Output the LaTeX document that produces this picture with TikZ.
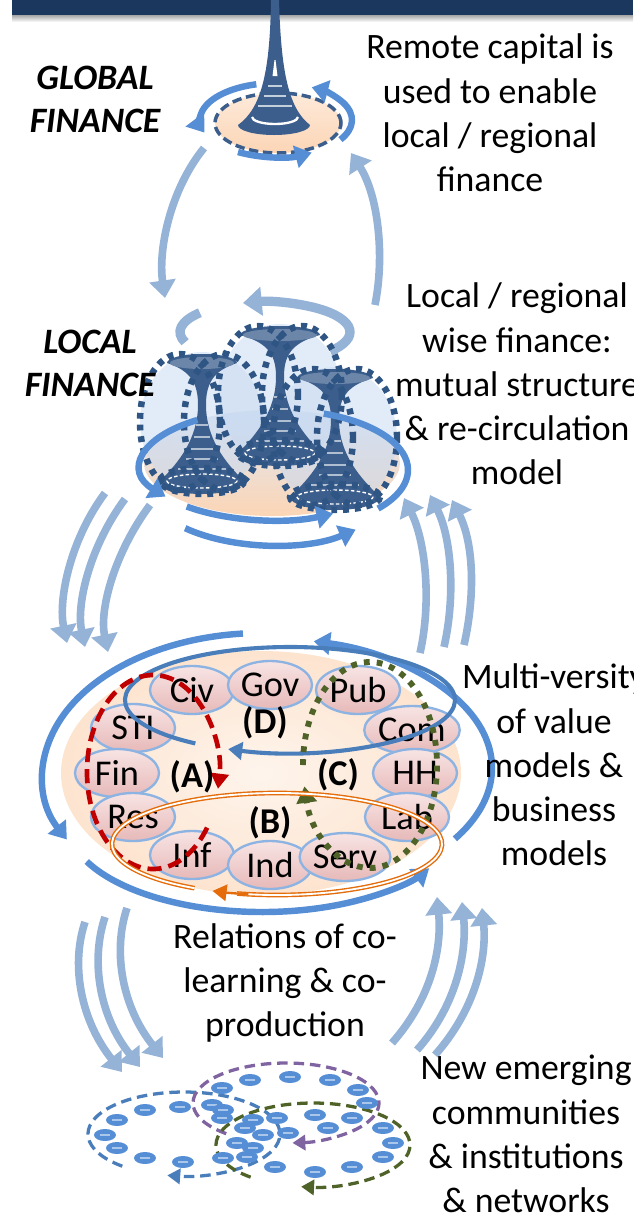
\documentclass[tikz,border=0pt]{standalone}
\usepackage{fontspec}
\setmainfont{Carlito}
\usetikzlibrary{shapes.geometric,arrows.meta,calc,positioning}
\newcommand{\MvUnit}{0.03}
\definecolor{barnavy}{HTML}{1C375E}
\definecolor{towerblue}{HTML}{3B5E8C}
\definecolor{dotnavy}{HTML}{2E5584}
\definecolor{ringblue}{HTML}{558ED5}
\definecolor{flowblue}{HTML}{95B3D7}
\definecolor{domeblue}{HTML}{C6D9F1}
\definecolor{peach}{HTML}{FCD5B5}
\definecolor{peachlight}{HTML}{FDEADA}
\definecolor{pinkdark}{HTML}{E6B9B8}
\definecolor{pinklight}{HTML}{F8E4E4}
\definecolor{rimblue}{HTML}{8DB3E2}
\definecolor{loopred}{HTML}{C00000}
\definecolor{loopgreen}{HTML}{4F6228}
\definecolor{looporange}{HTML}{E46C0A}
\definecolor{loopblue}{HTML}{4A7EBB}
\definecolor{looppurple}{HTML}{8064A2}
\tikzset{
  note/.style={align=center, inner sep=0pt, font=\fontsize{30.5}{37.8}\selectfont},
  tier/.style={align=center, inner sep=0pt, font=\fontsize{30.5}{36.7}\selectfont\bfseries\itshape},
  actor/.style={ellipse, draw=rimblue, line width=2pt, top color=pinklight, bottom color=pinkdark,
    minimum width=84*\MvUnit cm, minimum height=48*\MvUnit cm, inner sep=0pt, font=\fontsize{31}{32}\selectfont},
  member/.style={ellipse, fill=ringblue, minimum width=22*\MvUnit cm, minimum height=12*\MvUnit cm, inner sep=0pt,
    path picture={\draw[white, opacity=0.5, line width=1pt] ([xshift=-4pt]path picture bounding box.center) -- ([xshift=4pt]path picture bounding box.center);}},
  tag/.style={inner sep=0pt, font=\fontsize{31}{32}\selectfont\bfseries},
  flow/.style={flowblue, line width=6.5pt, -{Triangle[length=15pt, width=22pt]}},
  ring/.style={ringblue, line width=5.5pt},
  ringarrow/.style={ring, -{Triangle[length=14pt, width=19pt]}},
  domedots/.style={dotnavy, line width=5.5pt, dash pattern=on 5pt off 5pt},
}
\begin{document}
\begin{tikzpicture}[x=\MvUnit cm, y=-\MvUnit cm]
\useasboundingbox (0,0) rectangle (633,1223);

\fill[barnavy] (12,0) rectangle (633,15);
\shade[top color=black!35, bottom color=white] (12,15) rectangle (633,22);

\node[ellipse, draw=towerblue, line width=3pt, dash pattern=on 8pt off 4pt, top color=peachlight, bottom color=peach,
  minimum width=126*\MvUnit cm, minimum height=60*\MvUnit cm] (gbase) at (278,123) {};
\coordinate (gc) at (276,120);
\draw[ringarrow] ($(gc)+(255:76 and 37)$) arc[start angle=255, end angle=160, x radius=76, y radius=37];
\draw[ringarrow] ($(gc)+(120:76 and 37)$) arc[start angle=120, end angle=62, x radius=76, y radius=37];
\draw[ringarrow] ($(gc)+(32:76 and 37)$) arc[start angle=32, end angle=-62, x radius=76, y radius=37];
\fill[towerblue] (271,0) .. controls (270,70) and (262,108) .. (238,125)
  arc[start angle=180, end angle=0, x radius=36, y radius=10]
  .. controls (288,108) and (281,70) .. (279,0) -- cycle;
\fill[white] (274.5,60) -- (275.5,60) -- (277.5,76) -- (272.5,76) -- cycle;
\foreach \sy/\sw in {86/7, 96/11, 106/17}
  \draw[white, opacity=0.7, line width=1.2pt] (275-\sw,\sy) -- (275+\sw,\sy);
\draw[white, line width=2pt] (252,117) arc[start angle=180, end angle=0, x radius=23, y radius=7];

\node[tier] (glabel) at (95,99) {GLOBAL\\FINANCE};
\node[note] (gnote) at (490,113) {Remote capital is\\used to enable\\local / regional\\finance};

\coordinate (g1) at (204,148);
\coordinate (l1) at (165,298);
\draw[flow] (g1) .. controls (170,190) and (158,250) .. (l1);
\coordinate (l2) at (375,305);
\coordinate (g2) at (351,153);
\draw[flow] (l2) .. controls (385,255) and (378,195) .. (g2);

\coordinate (lc) at (265,332);
\draw[flowblue, line width=8pt, -{Triangle[length=16pt, width=24pt]}] ($(lc)+(40:85 and 30)$) arc[start angle=40, end angle=-105, x radius=85, y radius=30];
\draw[flowblue, line width=8pt] ($(lc)+(-140:85 and 30)$) arc[start angle=-140, end angle=-200, x radius=85, y radius=30];

\node[ellipse, top color=domeblue!60, bottom color=peach, minimum width=256*\MvUnit cm, minimum height=106*\MvUnit cm] (lbase) at (272,463) {};
\foreach \tx/\my in {202/422, 280/394, 335/437}
  \fill[domeblue, opacity=0.5] (\tx,\my) ellipse[x radius=62, y radius=70];
\foreach \tx/\tp/\bt/\rt/\rb in {202/363/481/35/42, 280/335/453/40/42, 335/378/497/38/45} {
  \fill[towerblue] (\tx-\rt,\tp) .. controls (\tx-10,\tp+8) and (\tx-4,\tp+22) .. (\tx-4,\tp+42)
    .. controls (\tx-4,\bt-38) and (\tx-\rb+12,\bt-12) .. (\tx-\rb,\bt)
    arc[start angle=180, end angle=0, x radius=\rb, y radius=13]
    .. controls (\tx+\rb-12,\bt-12) and (\tx+4,\bt-38) .. (\tx+4,\tp+42)
    .. controls (\tx+4,\tp+22) and (\tx+10,\tp+8) .. (\tx+\rt,\tp)
    arc[start angle=0, end angle=-180, x radius=\rt, y radius=9] -- cycle;
  \fill[towerblue!75!white] (\tx,\tp) ellipse[x radius=\rt-3, y radius=6];
  \foreach \sy/\sw in {12/24, 22/16, 32/11, 44/8, 56/6}
    \draw[white, opacity=0.6, line width=1pt] (\tx-\sw,\bt-\sy) -- (\tx+\sw,\bt-\sy);
  \draw[white, line width=1.2pt, dash pattern=on 3pt off 2pt] (\tx,\bt) ellipse[x radius=\rb-7, y radius=7];
  \draw[domedots] (\tx,\bt) ellipse[x radius=\rb, y radius=13];
}
\foreach \tx/\my in {202/422, 280/394, 335/437} {
  \draw[domedots] (\tx-22,\my) ellipse[x radius=40, y radius=68];
  \draw[domedots] (\tx+22,\my) ellipse[x radius=40, y radius=68];
}
\coordinate (rc) at (272,465);
\draw[ringarrow] ($(rc)+(235:130 and 55)$) arc[start angle=235, end angle=145, x radius=130, y radius=55];
\draw[ringarrow] ($(rc)+(131:130 and 55)$) arc[start angle=131, end angle=62, x radius=130, y radius=55];
\coordinate (rc2) at (280,470);
\draw[ring] ($(rc2)+(40:128 and 60)$) arc[start angle=40, end angle=-70, x radius=128, y radius=60];
\coordinate (rc3) at (272,485);
\draw[ringarrow] ($(rc3)+(134:125 and 60)$) arc[start angle=134, end angle=48, x radius=125, y radius=60];

\node[tier] (llabel) at (90,363) {LOCAL\\FINANCE};
\node[note] (lnote) at (517,384) {Local / regional\\wise finance:\\mutual structure\\\& re-circulation\\model};

\foreach \sx/\sy/\ex/\ey [count=\k] in {105/493/67/643, 125/499/85/647, 150/505/108/652} {
  \coordinate (ls\k) at (\sx,\sy);
  \coordinate (vt\k) at (\ex,\ey);
  \draw[flow] (ls\k) .. controls +(-35,47) and +(-9,-43) .. (vt\k);
}
\foreach \sx/\sy/\ex/\ey [count=\k] in {420/653/404/498, 444/647/430/495, 464/645/452/500} {
  \coordinate (vs\k) at (\sx,\sy);
  \coordinate (lt\k) at (\ex,\ey);
  \draw[flow] (vs\k) .. controls +(12,-53) and +(21,42) .. (lt\k);
}

\node[ellipse, inner color=peachlight!50!white, outer color=peachlight!70!peach, minimum width=400*\MvUnit cm, minimum height=244*\MvUnit cm] (vbase) at (261,773) {};
\coordinate (vc1) at (262,775);
\draw[ringarrow] ($(vc1)+(265:219 and 142)$) arc[start angle=265, end angle=153, x radius=219, y radius=142];
\coordinate (vc2) at (262,768);
\draw[ringarrow] ($(vc2)+(33:230 and 130)$) arc[start angle=33, end angle=-77, x radius=230, y radius=130];
\coordinate (vc3) at (262,822);
\draw[ringarrow] ($(vc3)+(154:195 and 90)$) arc[start angle=154, end angle=31, x radius=195, y radius=90];

\node[actor] (civ) at (192,690) {Civ};
\node[actor] (gov) at (270,685) {Gov};
\node[actor] (pub) at (358,690) {Pub};
\node[actor] (sti) at (133,728) {STI};
\node[actor] (com) at (412,730) {Com};
\node[actor] (fin) at (117,773) {Fin};
\node[actor] (hh) at (415,773) {HH};
\node[actor] (res) at (133,817) {Res};
\node[actor] (lab) at (407,817) {Lab};
\node[actor] (inf) at (192,855) {Inf};
\node[actor] (ind) at (270,865) {Ind};
\node[actor] (serv) at (345,857) {Serv};

\coordinate (dc) at (290,700);
\draw[loopblue, line width=3.5pt, -{Triangle[length=12pt, width=15pt]}] ($(dc)+(125:165 and 53)$) arc[start angle=125, end angle=472, x radius=165, y radius=53];
\coordinate (ac) at (153,772);
\draw[loopred, line width=4pt, dash pattern=on 12pt off 6pt, -{Triangle[length=13pt, width=15pt]}] ($(ac)+(35:66 and 97)$) arc[start angle=35, end angle=370, x radius=66, y radius=97];
\coordinate (cc) at (370,765);
\draw[loopgreen, line width=5pt, dash pattern=on 5pt off 6pt, -{Triangle[length=14pt, width=17pt]}] ($(cc)+(180:67 and 103)$) arc[start angle=180, end angle=528, x radius=67, y radius=103];
\coordinate (bc) at (277,844);
\draw[looporange, line width=1.2pt, double=white, double distance=1.6pt] ($(bc)+(120:165 and 51)$) arc[start angle=120, end angle=464, x radius=165, y radius=51];
\draw[looporange, line width=2pt, -{Triangle[length=12pt, width=14pt]}] ($(bc)+(460:165 and 51)$) arc[start angle=460, end angle=473, x radius=165, y radius=51];

\node[tag] (ta) at (192,777) {(A)};
\node[tag] (tb) at (270,823) {(B)};
\node[tag] (tc) at (338,775) {(C)};
\node[tag] (td) at (265,723) {(D)};

\node[note] (vnote) at (554,765) {Multi-versity\\of value\\models \&\\business\\models};
\node[note] (rnote) at (285,983) {Relations of co-\\learning \& co-\\production};

\foreach \sx/\sy/\ex/\ey [count=\k] in {85/922/122/1072, 105/917/140/1067, 127/908/163/1058} {
  \coordinate (vd\k) at (\sx,\sy);
  \coordinate (nt\k) at (\ex,\ey);
  \draw[flow] (vd\k) .. controls +(-15,45) and +(-40,-50) .. (nt\k);
}
\foreach \sx/\sy/\ex/\ey [count=\k] in {392/1043/437/897, 417/1050/462/902, 435/1055/482/908} {
  \coordinate (ns\k) at (\sx,\sy);
  \coordinate (vu\k) at (\ex,\ey);
  \draw[flow] (ns\k) .. controls +(40,-45) and +(5,50) .. (vu\k);
}

\coordinate (nc1) at (184,1134);
\draw[loopblue, line width=2.8pt, dash pattern=on 9pt off 5pt, -{Triangle[length=11pt, width=13pt]}] ($(nc1)+(130:96 and 42)$) arc[start angle=130, end angle=460, x radius=96, y radius=42];
\coordinate (nc2) at (286,1103);
\draw[looppurple, line width=2.8pt, dash pattern=on 9pt off 5pt, -{Triangle[length=11pt, width=13pt]}] ($(nc2)+(130:93 and 40)$) arc[start angle=130, end angle=446, x radius=93, y radius=40];
\coordinate (nc3) at (313,1145);
\draw[loopgreen, line width=2.8pt, dash pattern=on 9pt off 5pt, -{Triangle[length=11pt, width=13pt]}] ($(nc3)+(130:97 and 42)$) arc[start angle=130, end angle=457, x radius=97, y radius=42];
\foreach \dx/\dy [count=\k] in {250/1080, 290/1077, 330/1080, 358/1090, 222/1088, 367/1103, 212/1105, 223/1110,
  222/1118, 180/1107, 145/1110, 117/1120, 105/1135, 117/1148, 145/1158, 183/1162, 223/1158, 237/1143,
  253/1148, 247/1157, 245/1128, 253/1120, 263/1135, 277/1118, 288/1133, 315/1115, 352/1118, 328/1128,
  383/1128, 393/1143, 383/1157, 352/1167, 315/1172, 275/1167}
  \node[member] (m\k) at (\dx,\dy) {};

\node[note] (nnote) at (526,1134) {New emerging\\communities\\\& institutions\\\& networks};
\end{tikzpicture}
\end{document}
